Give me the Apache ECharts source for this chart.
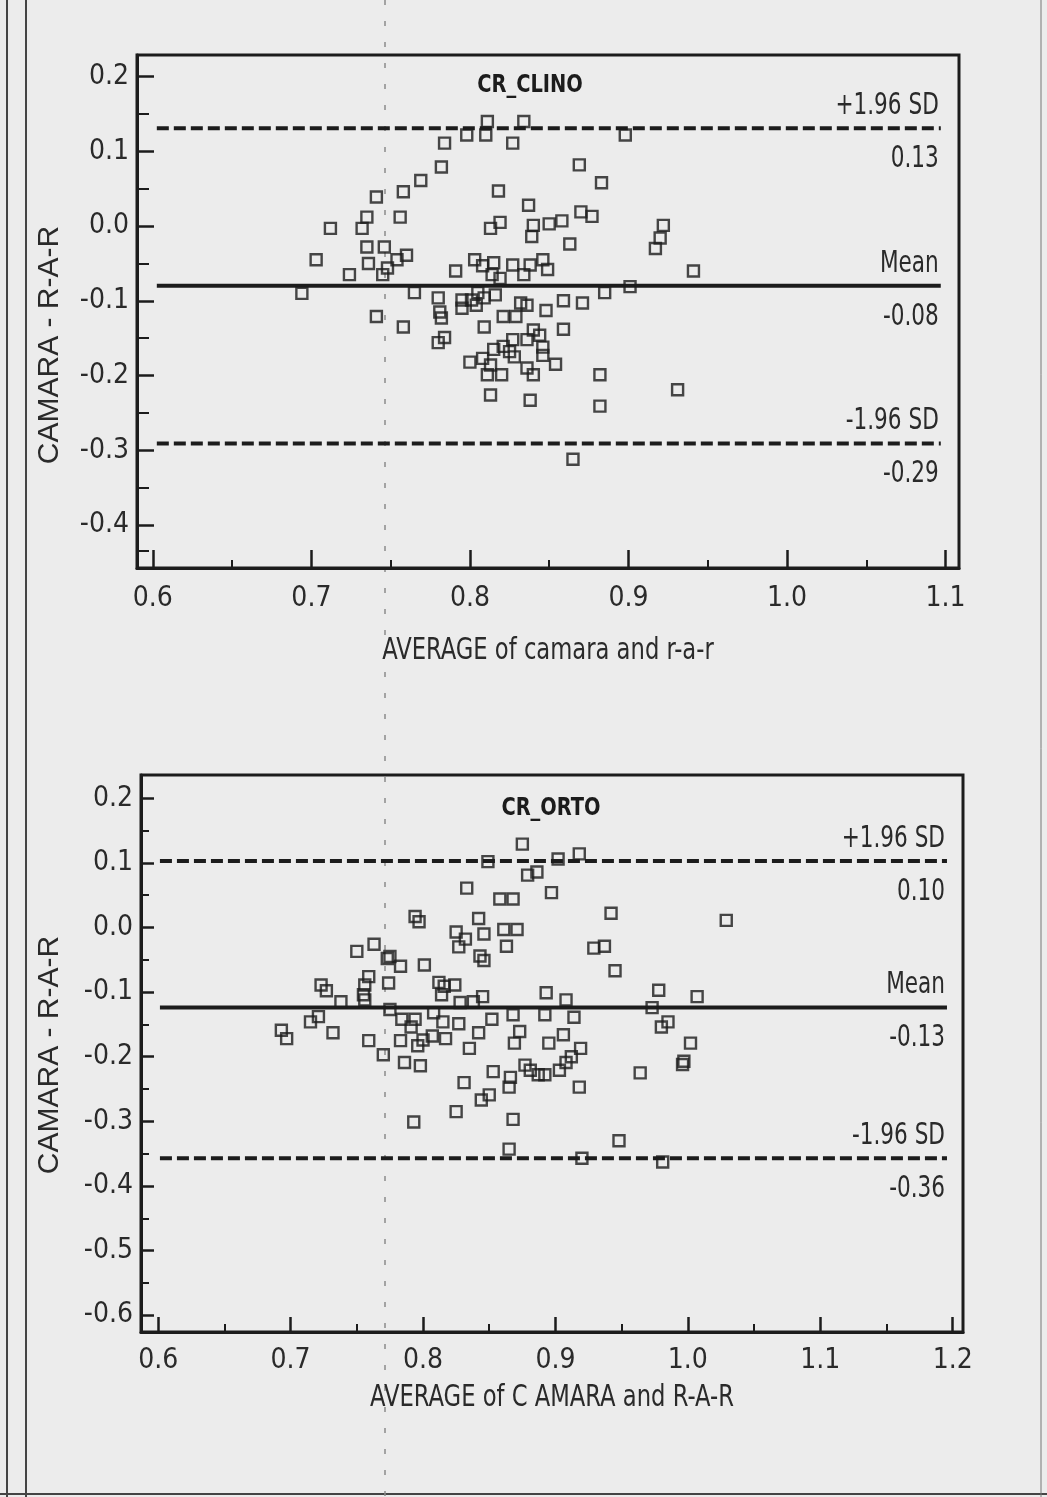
<!DOCTYPE html>
<html><head><meta charset="utf-8">
<script src="https://cdn.jsdelivr.net/npm/echarts@6/dist/echarts.min.js"></script>
<style>html,body{margin:0;padding:0;background:#ececec}#c{width:1047px;height:1497px}</style>
</head><body><div id="c"></div>
<script>
// ---------- DATA ----------
const topTitle = "CR_CLINO";
const botTitle = "CR_ORTO";
const topXName = "AVERAGE of camara and r-a-r";
const botXName = "AVERAGE of C AMARA and R-A-R";
const yName = "CAMARA - R-A-R";

const topXTicks = [0.6, 0.7, 0.8, 0.9, 1.0, 1.1];
const topXMinor = [0.65, 0.75, 0.85, 0.95, 1.05];
const topYTicks = [0.2, 0.1, 0.0, -0.1, -0.2, -0.3, -0.4];
const topYMinor = [0.15, 0.05, -0.05, -0.15, -0.25, -0.35, -0.435];
const botXTicks = [0.6, 0.7, 0.8, 0.9, 1.0, 1.1, 1.2];
const botXMinor = [0.65, 0.75, 0.85, 0.95, 1.05, 1.15];
const botYTicks = [0.2, 0.1, 0.0, -0.1, -0.2, -0.3, -0.4, -0.5, -0.6];
const botYMinor = [0.15, 0.05, -0.05, -0.15, -0.25, -0.35, -0.45, -0.55];

const topXRange = [0.590, 1.1085];
const topYRange = [-0.4576, 0.229];
const botXRange = [0.587, 1.2078];
const botYRange = [-0.626, 0.236];

const topLineSpan = [0.6025, 1.097];
const botLineSpan = [0.6013, 1.1957];
const topLines = [0.131, -0.080, -0.291];
const botLines = [0.103, -0.124, -0.357];
const lineNames = ["+1.96 SD", "Mean", "-1.96 SD"];
const topLineValues = ["0.13", "-0.08", "-0.29"];
const botLineValues = ["0.10", "-0.13", "-0.36"];

const topX = [0.811,0.834,0.798,0.810,0.898,0.784,0.827,0.782,0.869,0.769,
0.883,0.741,0.758,0.818,0.837,0.735,0.732,0.712,0.756,0.819,
0.813,0.840,0.839,0.850,0.858,0.870,0.877,0.922,0.920,0.917,
0.863,0.735,0.746,0.703,0.736,0.754,0.760,0.748,0.724,0.745,
0.791,0.803,0.808,0.815,0.814,0.819,0.827,0.838,0.834,0.846,
0.849,0.941,0.694,0.765,0.780,0.781,0.782,0.741,0.758,0.795,
0.795,0.801,0.805,0.804,0.809,0.816,0.885,0.901,0.821,0.829,
0.832,0.836,0.848,0.859,0.871,0.809,0.859,0.780,0.784,0.800,
0.808,0.815,0.821,0.827,0.825,0.828,0.836,0.840,0.844,0.846,
0.846,0.813,0.811,0.820,0.836,0.840,0.854,0.882,0.813,0.838,
0.882,0.931,0.865];
const topY = [0.140,0.140,0.122,0.122,0.122,0.111,0.111,0.079,0.082,0.061,
0.058,0.039,0.046,0.047,0.028,0.012,-0.003,-0.003,0.012,0.005,
-0.003,0.001,-0.014,0.003,0.007,0.019,0.013,0.001,-0.016,-0.030,
-0.024,-0.028,-0.028,-0.045,-0.050,-0.045,-0.039,-0.056,-0.065,-0.065,
-0.060,-0.045,-0.053,-0.049,-0.065,-0.070,-0.052,-0.052,-0.065,-0.045,
-0.058,-0.060,-0.090,-0.089,-0.096,-0.115,-0.123,-0.121,-0.135,-0.099,
-0.110,-0.099,-0.089,-0.106,-0.096,-0.092,-0.089,-0.081,-0.121,-0.121,
-0.103,-0.106,-0.113,-0.100,-0.103,-0.135,-0.138,-0.156,-0.149,-0.182,
-0.177,-0.165,-0.161,-0.152,-0.168,-0.175,-0.152,-0.139,-0.146,-0.162,
-0.173,-0.186,-0.199,-0.199,-0.190,-0.199,-0.185,-0.199,-0.226,-0.233,
-0.241,-0.219,-0.312];

const botX = [0.849,0.833,0.858,0.794,0.797,0.842,0.825,0.832,0.827,0.846,
0.861,0.863,0.750,0.763,0.775,0.773,0.783,0.801,0.843,0.846,
0.759,0.756,0.774,0.723,0.727,0.738,0.755,0.756,0.812,0.816,
0.814,0.824,0.828,0.838,0.845,0.775,0.721,0.715,0.784,0.791,
0.794,0.808,0.815,0.827,0.852,0.693,0.697,0.732,0.759,0.783,
0.796,0.800,0.807,0.817,0.842,0.835,0.770,0.786,0.798,0.853,
0.831,0.844,0.850,0.825,0.793,
0.875,0.902,0.918,0.879,0.886,0.868,0.897,0.942,1.029,0.871,
0.929,0.937,0.945,0.893,0.908,0.978,1.007,0.973,0.868,0.892,
0.914,0.985,0.980,0.873,0.869,0.895,0.906,0.919,0.912,0.908,
0.903,0.877,0.881,0.887,0.892,1.002,0.997,0.996,0.964,0.866,
0.865,0.918,0.868,0.948,0.865,0.920,0.981];
const botY = [0.102,0.061,0.044,0.017,0.009,0.014,-0.007,-0.018,-0.030,-0.010,
-0.003,-0.029,-0.037,-0.026,-0.045,-0.048,-0.060,-0.058,-0.044,-0.051,
-0.076,-0.089,-0.086,-0.089,-0.098,-0.115,-0.104,-0.112,-0.085,-0.091,
-0.104,-0.089,-0.116,-0.115,-0.107,-0.127,-0.138,-0.146,-0.142,-0.154,
-0.142,-0.132,-0.146,-0.149,-0.142,-0.159,-0.172,-0.163,-0.175,-0.175,
-0.183,-0.174,-0.168,-0.172,-0.163,-0.187,-0.197,-0.209,-0.214,-0.223,
-0.240,-0.267,-0.259,-0.285,-0.301,
0.129,0.106,0.114,0.081,0.086,0.044,0.054,0.022,0.011,-0.003,
-0.032,-0.029,-0.067,-0.101,-0.112,-0.097,-0.107,-0.124,-0.135,-0.135,
-0.139,-0.146,-0.154,-0.161,-0.179,-0.179,-0.166,-0.187,-0.200,-0.209,
-0.221,-0.213,-0.221,-0.228,-0.228,-0.179,-0.207,-0.212,-0.225,-0.232,
-0.247,-0.247,-0.297,-0.330,-0.343,-0.357,-0.363];

// ---------- STYLE ----------
const NARROW = "'Liberation Sans Narrow','DejaVu Sans Condensed','Arial Narrow',sans-serif";
const WIDE = "'Liberation Sans','DejaVu Sans',Arial,sans-serif";
const INK = '#1c1c1c';
const TXT = '#2a2a2a';

const chart = echarts.init(document.getElementById('c'), null, {renderer: 'canvas'});

function majorX(gi, rng, ticks, tickLen, margin) {
  return {type: 'value', gridIndex: gi, position: 'bottom', min: rng[0], max: rng[1],
    axisLine: {show: true, onZero: false, lineStyle: {color: INK, width: 3}},
    axisTick: {show: true, inside: true, length: tickLen, customValues: ticks, lineStyle: {color: INK, width: 2.5}},
    axisLabel: {show: true, customValues: ticks, margin: margin, formatter: v => v.toFixed(1),
      color: TXT, fontFamily: NARROW, fontSize: 28},
    splitLine: {show: false}};
}
function minorX(gi, rng, ticks, tickLen) {
  return {type: 'value', gridIndex: gi, position: 'bottom', min: rng[0], max: rng[1],
    axisLine: {show: false, onZero: false},
    axisTick: {show: true, inside: true, length: tickLen, customValues: ticks, lineStyle: {color: INK, width: 2}},
    axisLabel: {show: false, customValues: ticks}, splitLine: {show: false}};
}
function majorY(gi, rng, ticks, tickLen, margin) {
  return {type: 'value', gridIndex: gi, position: 'left', min: rng[0], max: rng[1],
    axisLine: {show: true, onZero: false, lineStyle: {color: INK, width: 3}},
    axisTick: {show: true, inside: true, length: tickLen, customValues: ticks, lineStyle: {color: INK, width: 2.5}},
    axisLabel: {show: true, customValues: ticks, margin: margin, formatter: v => v.toFixed(1),
      color: TXT, fontFamily: NARROW, fontSize: 28},
    splitLine: {show: false}};
}
function minorY(gi, rng, ticks, tickLen) {
  return {type: 'value', gridIndex: gi, position: 'left', min: rng[0], max: rng[1],
    axisLine: {show: false, onZero: false},
    axisTick: {show: true, inside: true, length: tickLen, customValues: ticks, lineStyle: {color: INK, width: 2}},
    axisLabel: {show: false, customValues: ticks}, splitLine: {show: false}};
}

function refSeries(xi, yi, span, vals) {
  return vals.map((v, i) => ({
    type: 'line', xAxisIndex: xi, yAxisIndex: yi, silent: true, symbol: 'none',
    data: [[span[0], v], [span[1], v]],
    lineStyle: {color: INK, width: 4, type: i === 1 ? 'solid' : [12, 5]},
    z: 3
  }));
}
function scatterSeries(xi, yi, xs, ys) {
  return {type: 'scatter', xAxisIndex: xi, yAxisIndex: yi, silent: true,
    symbol: 'rect', symbolSize: 11,
    data: xs.map((x, i) => [x, ys[i]]),
    itemStyle: {color: 'rgba(0,0,0,0)', borderColor: INK, borderWidth: 2.4},
    z: 4};
}

const option = {
  backgroundColor: '#ececec',
  animation: false,
  grid: [
    {left: 137, top: 55, width: 822, height: 513, show: true, borderColor: INK, borderWidth: 3, backgroundColor: 'transparent'},
    {left: 141, top: 775, width: 822, height: 557, show: true, borderColor: INK, borderWidth: 3, backgroundColor: 'transparent'}
  ],
  xAxis: [
    majorX(0, topXRange, topXTicks, 18, 17),
    minorX(0, topXRange, topXMinor, 8),
    majorX(1, botXRange, botXTicks, 15, 15),
    minorX(1, botXRange, botXMinor, 8)
  ],
  yAxis: [
    majorY(0, topYRange, topYTicks, 17, 8),
    minorY(0, topYRange, topYMinor, 12),
    majorY(1, botYRange, botYTicks, 13, 8),
    minorY(1, botYRange, botYMinor, 8)
  ],
  series: [
    ...refSeries(0, 0, topLineSpan, topLines),
    scatterSeries(0, 0, topX, topY),
    ...refSeries(2, 2, botLineSpan, botLines),
    scatterSeries(2, 2, botX, botY)
  ]
};
chart.setOption(option);

// ---------- TEXT / DECOR ----------
const g = [];
function txt(x, y, s, opt, sx) {
  g.push({type: 'text', x: x, y: y, silent: true, scaleX: sx || 1,
    style: Object.assign({text: s, fill: TXT, font: '30px ' + NARROW, textAlign: 'center', textVerticalAlign: 'middle'}, opt || {})});
}
// page frame and crease
g.push({type: 'line', silent: true, shape: {x1: 7, y1: 0, x2: 7, y2: 1497}, style: {stroke: '#444', lineWidth: 2}});
g.push({type: 'line', silent: true, shape: {x1: 26, y1: 0, x2: 26, y2: 1497}, style: {stroke: '#444', lineWidth: 2}});
g.push({type: 'line', silent: true, shape: {x1: 0, y1: 1494, x2: 1047, y2: 1494}, style: {stroke: '#444', lineWidth: 2}});
g.push({type: 'line', silent: true, shape: {x1: 1041, y1: 0, x2: 1041, y2: 1497}, style: {stroke: '#777', lineWidth: 1}});
g.push({type: 'line', silent: true, shape: {x1: 385, y1: 0, x2: 385, y2: 1497}, style: {stroke: '#8a8a8a', lineWidth: 1.5, lineDash: [5, 16]}});

// titles
txt(530, 86, topTitle, {font: 'bold 24px ' + NARROW, fill: INK}, 0.9);
txt(551, 809, botTitle, {font: 'bold 24px ' + NARROW, fill: INK}, 0.9);
// axis names
txt(548, 651, topXName, {font: '30px ' + NARROW}, 0.84);
txt(552, 1398, botXName, {font: '30px ' + NARROW}, 0.84);
g.push({type: 'text', silent: true, x: 50, y: 345, rotation: Math.PI / 2,
  style: {text: yName, fill: TXT, font: '30px ' + WIDE, textAlign: 'center', textVerticalAlign: 'middle'}});
g.push({type: 'text', silent: true, x: 50, y: 1055, rotation: Math.PI / 2,
  style: {text: yName, fill: TXT, font: '30px ' + WIDE, textAlign: 'center', textVerticalAlign: 'middle'}});

// reference line labels
function lineLabels(gi, span, vals, valTxt) {
  vals.forEach((v, i) => {
    const p = chart.convertToPixel({xAxisIndex: gi * 2, yAxisIndex: gi * 2}, [span[1], v]);
    const xr = p[0] - 2;
    txt(xr, p[1] - 22, lineNames[i], {textAlign: 'right', font: '30px ' + NARROW}, 0.8);
    txt(xr, p[1] + 31, valTxt[i], {textAlign: 'right', font: '30px ' + NARROW}, 0.8);
  });
}
lineLabels(0, topLineSpan, topLines, topLineValues);
lineLabels(1, botLineSpan, botLines, botLineValues);

chart.setOption({graphic: g});
</script>
</body></html>
